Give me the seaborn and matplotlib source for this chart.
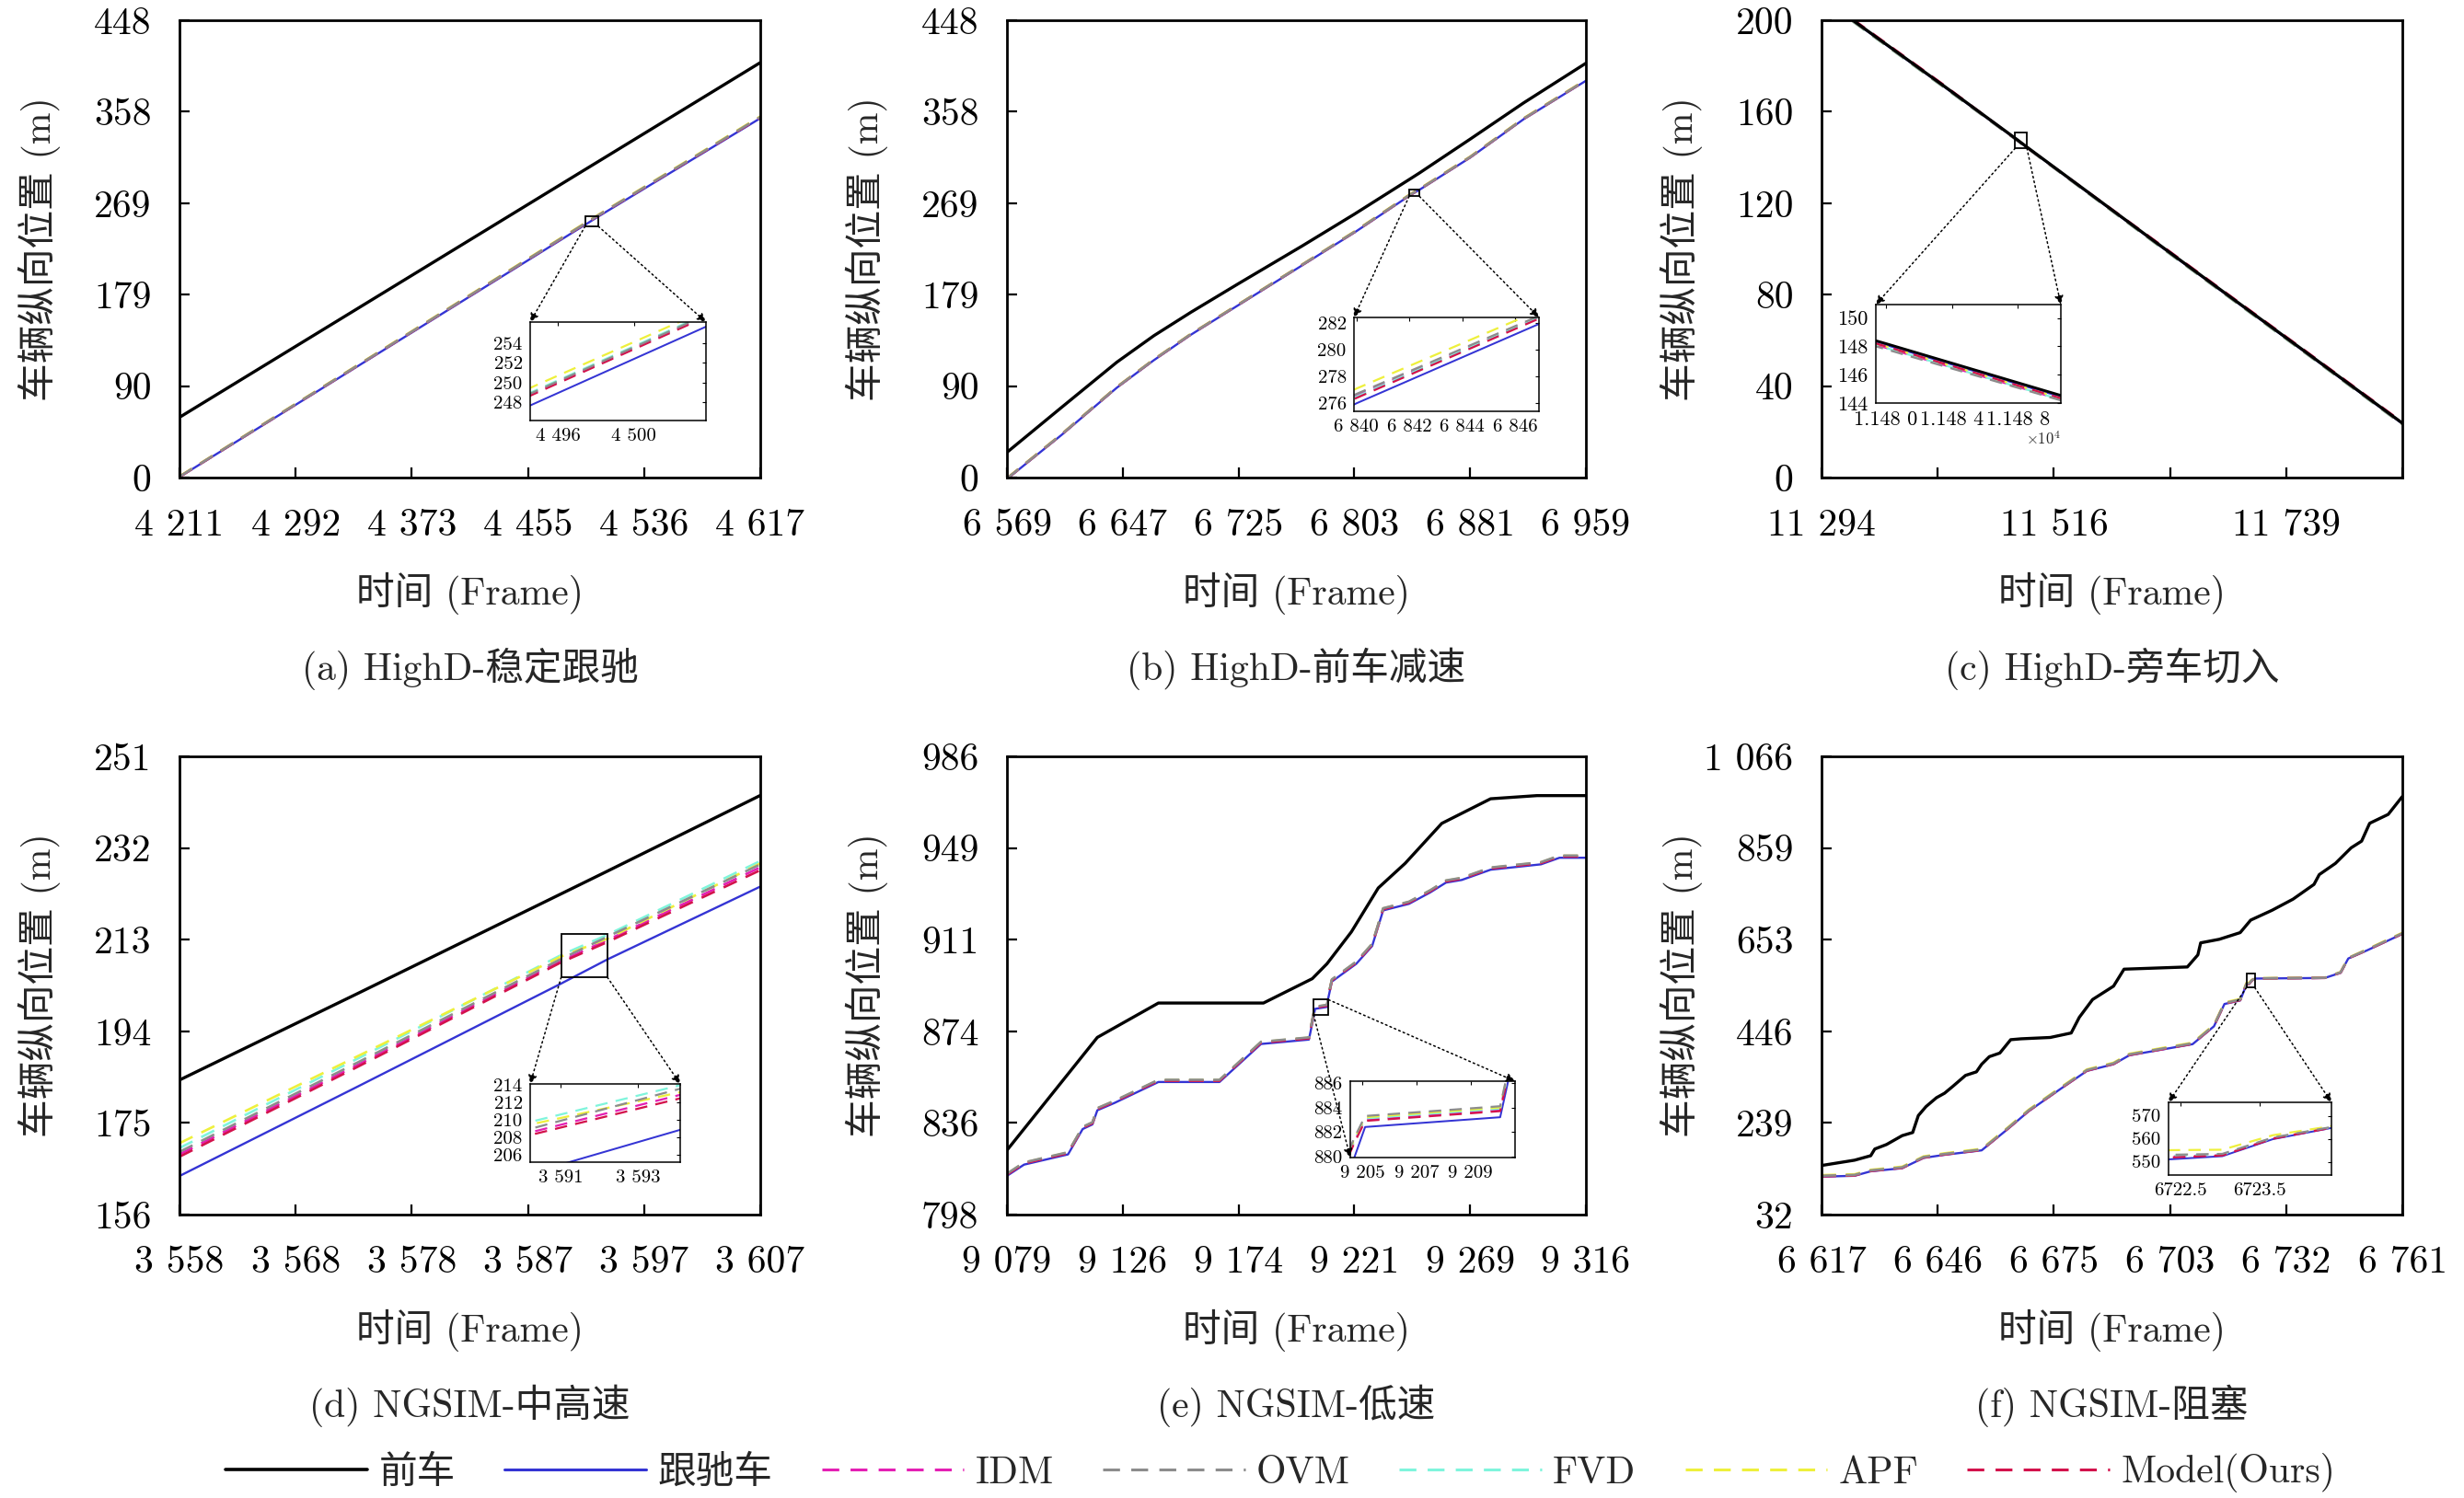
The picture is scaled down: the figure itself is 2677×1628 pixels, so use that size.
import matplotlib
matplotlib.use("Agg")
import numpy as np
import matplotlib.pyplot as plt
import seaborn as sns
from matplotlib.patches import Rectangle, ConnectionPatch
from matplotlib.lines import Line2D

# ---------------- data ----------------
LEGEND_LABELS = ['前车', '跟驰车', 'IDM', 'OVM', 'FVD', 'APF', 'Model(Ours)']
CAPTIONS = ['(a) HighD-稳定跟驰', '(b) HighD-前车减速', '(c) HighD-旁车切入',
            '(d) NGSIM-中高速', '(e) NGSIM-低速', '(f) NGSIM-阻塞']
XLABEL = '时间 (Frame)'
YLABEL = '车辆纵向位置 (m)'

# (a) HighD steady following
A_XTL = ['4 211', '4 292', '4 373', '4 455', '4 536', '4 617']
A_YTL = ['0', '90', '179', '269', '358', '448']
A_FRAMES = [4211, 4494.5, 4504, 4617]
A_LEAD = [59.0, 301.7, 309.8, 406.5]
A_FOLLOW = [0.5, 247.6, 255.9, 352.0]
A_IDM = [0.8, 248.7, 257.0, 353.0]
A_OVM = [0.9, 248.8, 257.1, 353.2]
A_FVD = [0.9, 248.9, 257.2, 353.3]
A_APF = [1.2, 249.4, 257.6, 353.8]
A_OURS = [0.7, 248.6, 256.9, 352.8]
A_IN_XT = [4496, 4500]
A_IN_XTL = ['4 496', '4 500']
A_IN_YT = [248, 250, 252, 254]

# (b) HighD leader decelerating
B_XTL = ['6 569', '6 647', '6 725', '6 803', '6 881', '6 959']
B_YTL = ['0', '90', '179', '269', '358', '448']
B_FRAMES = [6569, 6606, 6643, 6668, 6693, 6725, 6768, 6803, 6840, 6847, 6881, 6917, 6959]
B_LEAD = [24.7, 69.0, 113.0, 139.0, 162.0, 190.0, 227.0, 258.0, 292.0, 298.5, 331.5, 367.0, 405.9]
B_FOLLOW = [-1.5, 42.0, 88.0, 115.0, 140.0, 169.0, 208.0, 240.0, 276.0, 282.0, 313.4, 351.0, 388.7]
B_IDM = [-1.0, 42.5, 88.5, 115.5, 140.5, 169.5, 208.5, 240.5, 276.6, 282.5, 313.9, 351.5, 389.2]
B_OVM = [-0.9, 42.6, 88.6, 115.6, 140.6, 169.6, 208.6, 240.6, 276.7, 282.6, 314.0, 351.6, 389.3]
B_FVD = [-1.0, 42.5, 88.5, 115.5, 140.5, 169.5, 208.5, 240.5, 276.5, 282.5, 313.9, 351.5, 389.2]
B_APF = [-0.6, 42.9, 88.9, 115.9, 140.9, 169.9, 208.9, 241.0, 277.1, 283.0, 314.4, 352.0, 389.7]
B_OURS = [-1.1, 42.4, 88.4, 115.4, 140.4, 169.4, 208.4, 240.4, 276.4, 282.4, 313.8, 351.4, 389.1]
B_IN_XT = [6840, 6842, 6844, 6846]
B_IN_XTL = ['6 840', '6 842', '6 844', '6 846']
B_IN_YT = [276, 278, 280, 282]

# (c) HighD cut-in
C_XTL = ['11 294', '', '11 516', '', '11 739', '']
C_YTL = ['0', '40', '80', '120', '160', '200']
C_FRAMES = [11324, 11411, 11480, 11491, 11614, 11685, 11756, 11850]
C_LEAD = [200.0, 171.3, 148.2, 144.4, 102.9, 79.1, 55.4, 23.8]
C_FOLLOW = [199.8, 171.1, 148.1, 144.3, 102.7, 78.9, 55.2, 23.6]
C_IDM = [199.6, 170.9, 147.9, 144.1, 102.5, 78.7, 55.0, 23.4]
C_OVM = [199.5, 170.8, 147.8, 144.05, 102.4, 78.6, 54.9, 23.3]
C_FVD = [199.4, 170.7, 147.9, 144.1, 102.3, 78.5, 54.8, 23.2]
C_APF = [199.6, 170.9, 148.0, 144.2, 102.5, 78.7, 55.0, 23.4]
C_OURS = [200.4, 171.7, 148.0, 144.2, 103.3, 79.5, 55.8, 24.2]
C_IN_XT = [11480, 11484, 11488]
C_IN_XTL = ['1.148 0', '1.148 4', '1.148 8']
C_IN_YT = [144, 146, 148, 150]

# (d) NGSIM medium-high speed
D_XTL = ['3 558', '3 568', '3 578', '3 587', '3 597', '3 607']
D_YTL = ['156', '175', '194', '213', '232', '251']
D_FRAMES = [3558, 3573, 3590.2, 3594.1, 3607]
D_LEAD = [183.9, 201.8, 222.5, 227.2, 242.9]
D_FOLLOW = [164.0, 182.5, 203.9, 208.9, 224.0]
D_IDM = [168.5, 187.0, 208.6, 212.9, 228.0]
D_OVM = [169.0, 187.5, 209.0, 213.6, 228.6]
D_FVD = [169.8, 188.3, 209.8, 214.0, 229.3]
D_APF = [170.8, 188.8, 209.5, 213.2, 228.8]
D_OURS = [168.0, 186.6, 208.3, 212.5, 227.4]
D_IN_XT = [3591, 3593]
D_IN_XTL = ['3 591', '3 593']
D_IN_YT = [206, 208, 210, 212, 214]

# (e) NGSIM low speed
E_XTL = ['9 079', '9 126', '9 174', '9 221', '9 269', '9 316']
E_YTL = ['798', '836', '874', '911', '949', '986']
E_LEAD_FRAMES = [9079, 9116, 9141, 9184, 9204, 9210, 9220, 9231, 9242, 9257, 9277, 9296, 9316]
E_LEAD = [824.4, 870.7, 884.8, 884.8, 894.8, 900.9, 914.0, 932.0, 942.1, 958.5, 968.6, 969.9, 969.9]
E_FRAMES = [9079, 9086, 9104, 9110, 9114, 9116, 9123, 9141, 9166, 9183, 9202.6, 9204.7, 9205.1,
            9210.1, 9210.4, 9212, 9222, 9228.5, 9233, 9243.6, 9252.3, 9258.7, 9265.2, 9277,
            9297.6, 9305.2, 9316]
E_FOLLOW = [813.9, 818.5, 822.7, 833.1, 835.0, 840.8, 843.8, 852.4, 852.4, 868.0, 869.8, 879.9, 882.4,
            883.2, 886.2, 893.6, 900.9, 908.2, 922.8, 925.5, 930.2, 934.2, 935.3, 939.5,
            941.7, 944.4, 944.4]
E_IDM = [814.5, 819.1, 823.3, 833.7, 835.6, 841.4, 844.4, 853.0, 853.0, 868.6, 870.4, 881.2, 883.0,
         883.8, 886.8, 894.2, 901.5, 908.8, 923.4, 926.1, 930.8, 934.8, 935.9, 940.1,
         942.3, 945.0, 945.0]
E_OVM = [814.8, 819.4, 823.6, 834.0, 835.9, 841.7, 844.7, 853.3, 853.3, 868.9, 870.7, 881.5, 883.3,
         884.1, 887.1, 894.5, 901.8, 909.1, 923.7, 926.4, 931.1, 935.1, 936.2, 940.4,
         942.6, 945.3, 945.3]
E_FVD = [814.6, 819.2, 823.4, 833.8, 835.7, 841.5, 844.5, 853.1, 853.1, 868.7, 870.5, 881.3, 883.1,
         883.9, 886.9, 894.3, 901.6, 908.9, 923.5, 926.2, 930.9, 934.9, 936.0, 940.2,
         942.4, 945.1, 945.1]
E_APF = [814.7, 819.3, 823.5, 833.9, 835.8, 841.6, 844.6, 853.2, 853.2, 868.8, 870.6, 881.4, 883.2,
         884.0, 887.0, 894.4, 901.7, 909.0, 923.6, 926.3, 931.0, 935.0, 936.1, 940.3,
         942.5, 945.2, 945.2]
E_OURS = [814.4, 819.0, 823.2, 833.6, 835.5, 841.3, 844.3, 852.9, 852.9, 868.5, 870.3, 881.1, 882.9,
          883.7, 886.7, 894.1, 901.4, 908.7, 923.3, 926.0, 930.7, 934.7, 935.8, 940.0,
          942.2, 944.9, 944.9]
E_IN_XT = [9205, 9207, 9209]
E_IN_XTL = ['9 205', '9 207', '9 209']
E_IN_YT = [880, 882, 884, 886]

# (f) NGSIM congestion
F_XTL = ['6 617', '6 646', '6 675', '6 703', '6 732', '6 761']
F_YTL = ['32', '239', '446', '653', '859', '1 066']
F_LEAD_FRAMES = [6617, 6625.2, 6629.2, 6630.2, 6633.1, 6637, 6639.6, 6641, 6642.9, 6645.5, 6647.5,
                 6649.5, 6652.7, 6655.4, 6656.7, 6658.6, 6661.2, 6663.9, 6666.5, 6673.7, 6678.9,
                 6680.9, 6684.2, 6686.8, 6689.4, 6692, 6707.7, 6710.3, 6711, 6715.6, 6720.8,
                 6723.4, 6728.7, 6733.9, 6739.1, 6740.4, 6744.4, 6748.3, 6750.9, 6752.9, 6757.5, 6761]
F_LEAD = [142.8, 154.8, 164.9, 180.0, 190.1, 210.2, 217.2, 255.5, 275.7, 295.8, 305.9,
          321.0, 346.1, 354.1, 371.3, 388.4, 396.5, 426.7, 428.7, 431.7, 441.8,
          477.0, 517.3, 532.4, 547.5, 585.8, 590.8, 618.0, 645.2, 653.2, 668.3,
          696.5, 718.7, 743.8, 777.1, 799.2, 824.4, 859.6, 874.7, 915.0, 935.1, 975.4]
F_FRAMES = [6617, 6625.2, 6629.2, 6637, 6642.3, 6647.5, 6656.7, 6663.2, 6668.4, 6676.3, 6682.8,
            6689.4, 6693.3, 6709, 6714.3, 6716.9, 6720.8, 6722.35, 6723.03, 6723.67, 6724.4,
            6741.8, 6745.7, 6747.6, 6752.2, 6761]
F_FOLLOW = [117.6, 119.6, 129.7, 136.7, 159.9, 166.9, 177.0, 225.3, 265.6, 315.9, 356.2,
            371.3, 391.4, 416.6, 456.9, 507.2, 515.2, 551.0, 552.4, 559.8, 564.6,
            566.0, 577.7, 609.9, 628.0, 665.3]
F_IDM = [118.8, 120.8, 130.9, 137.9, 161.1, 168.1, 178.2, 226.5, 266.8, 317.1, 357.4,
         372.5, 392.6, 417.8, 458.1, 508.4, 516.4, 552.2, 552.9, 560.2, 564.8,
         566.2, 578.3, 610.5, 628.9, 666.2]
F_OVM = [119.6, 121.6, 131.7, 138.7, 161.9, 168.9, 179.0, 227.3, 267.6, 317.9, 358.2,
         373.3, 393.4, 418.6, 458.9, 509.2, 517.2, 553.0, 553.4, 560.5, 565.0,
         566.4, 578.7, 610.9, 629.5, 666.8]
F_FVD = [119.2, 121.2, 131.3, 138.3, 161.5, 168.5, 178.6, 226.9, 267.2, 317.5, 357.8,
         372.9, 393.0, 418.2, 458.5, 508.8, 516.8, 552.6, 553.1, 560.3, 564.9,
         566.3, 578.5, 610.7, 629.2, 666.5]
F_APF = [121.0, 123.0, 133.1, 140.1, 163.3, 170.3, 180.4, 228.7, 269.0, 319.3, 359.6,
         374.7, 394.8, 420.0, 460.3, 510.6, 518.6, 555.0, 555.2, 561.5, 565.4,
         566.8, 579.5, 611.5, 630.5, 667.8]
F_OURS = [118.4, 120.4, 130.5, 137.5, 160.7, 167.7, 177.8, 226.1, 266.4, 316.7, 357.0,
          372.1, 392.2, 417.4, 457.7, 508.0, 516.0, 551.8, 552.7, 560.0, 564.7,
          566.1, 578.1, 610.3, 628.6, 665.9]
F_IN_XT = [6722.5, 6723.5]
F_IN_XTL = ['6722.5', '6723.5']
F_IN_YT = [550, 560, 570]

# ---------------- style ----------------
sns.set_theme(style='white')
FAM = ['cmr10', 'Noto Sans CJK SC', 'DejaVu Serif']
plt.rcParams['font.family'] = FAM
plt.rcParams['mathtext.fontset'] = 'cm'
plt.rcParams['axes.unicode_minus'] = False
plt.rcParams['axes.formatter.use_mathtext'] = True

LEAD_C = '#000000'
FOLLOW_C = '#3434d4'
# legend order: IDM, OVM, FVD, APF, Ours
MODEL_C = ['#e41fb4', '#8c8c8c', '#7ff5dc', '#eef03c', '#d3124c']
DRAW_ORDER = [0, 2, 3, 4, 1]   # OVM drawn on top of the other models
DASH = (6, 4)

W, H = 2677, 1628
fig = plt.figure(figsize=(W / 100, H / 100), dpi=100)
fig.patch.set_facecolor('white')


def px_axes(x0, y0, x1, y1):
    return fig.add_axes([x0 / W, 1 - y1 / H, (x1 - x0) / W, (y1 - y0) / H])


panels = [
    dict(rect=(195, 22, 826, 519), xlim=(4211, 4617), ylim=(0, 448), xtl=A_XTL, ytl=A_YTL,
         lead=(A_FRAMES, A_LEAD), follow=(A_FRAMES, A_FOLLOW),
         models=[(A_FRAMES, s) for s in (A_IDM, A_OVM, A_FVD, A_APF, A_OURS)],
         irect=(576, 350, 767, 457), ixlim=(4494.55, 4503.8), iylim=(246.1, 256.2),
         ixt=A_IN_XT, ixtl=A_IN_XTL, iyt=A_IN_YT, links=[((0, 0), (0, 1)), ((1, 0), (1, 1))], ifs=15),
    dict(rect=(1094, 22, 1723, 519), xlim=(6569, 6959), ylim=(0, 448), xtl=B_XTL, ytl=B_YTL,
         lead=(B_FRAMES, B_LEAD), follow=(B_FRAMES, B_FOLLOW),
         models=[(B_FRAMES, s) for s in (B_IDM, B_OVM, B_FVD, B_APF, B_OURS)],
         irect=(1471, 345, 1672, 447), ixlim=(6839.9, 6846.9), iylim=(275.4, 282.4),
         ixt=B_IN_XT, ixtl=B_IN_XTL, iyt=B_IN_YT, links=[((0, 0), (0, 1)), ((1, 0), (1, 1))], ifs=15),
    dict(rect=(1979, 22, 2610, 519), xlim=(11294, 11850), ylim=(0, 200), xtl=C_XTL, ytl=C_YTL,
         lead=(C_FRAMES, C_LEAD), follow=(C_FRAMES, C_FOLLOW),
         models=[(C_FRAMES, s) for s in (C_IDM, C_OVM, C_FVD, C_APF, C_OURS)],
         irect=(2038, 331, 2239, 438), ixlim=(11479.4, 11490.6), iylim=(144.0, 150.95),
         ixt=C_IN_XT, ixtl=C_IN_XTL, iyt=C_IN_YT, links=[((0, 0), (0, 1)), ((1, 0), (1, 1))], ifs=16),
    dict(rect=(195, 822, 826, 1320), xlim=(3558, 3607), ylim=(156, 251), xtl=D_XTL, ytl=D_YTL,
         lead=(D_FRAMES, D_LEAD), follow=(D_FRAMES, D_FOLLOW),
         models=[(D_FRAMES, s) for s in (D_IDM, D_OVM, D_FVD, D_APF, D_OURS)],
         irect=(576, 1178, 739, 1263), ixlim=(3590.2, 3594.1), iylim=(205.2, 214.15),
         ixt=D_IN_XT, ixtl=D_IN_XTL, iyt=D_IN_YT, links=[((0, 0), (0, 1)), ((1, 0), (1, 1))], ifs=15),
    dict(rect=(1094, 822, 1723, 1320), xlim=(9079, 9316), ylim=(798, 986), xtl=E_XTL, ytl=E_YTL,
         lead=(E_LEAD_FRAMES, E_LEAD), follow=(E_FRAMES, E_FOLLOW),
         models=[(E_FRAMES, s) for s in (E_IDM, E_OVM, E_FVD, E_APF, E_OURS)],
         irect=(1467, 1175, 1646, 1258), ixlim=(9204.55, 9210.65), iylim=(879.9, 886.15),
         ixt=E_IN_XT, ixtl=E_IN_XTL, iyt=E_IN_YT, links=[((0, 0), (0, 0)), ((1, 1), (1, 1))], ifs=15),
    dict(rect=(1979, 822, 2610, 1320), xlim=(6617, 6761), ylim=(32, 1066), xtl=F_XTL, ytl=F_YTL,
         lead=(F_LEAD_FRAMES, F_LEAD), follow=(F_FRAMES, F_FOLLOW),
         models=[(F_FRAMES, s) for s in (F_IDM, F_OVM, F_FVD, F_APF, F_OURS)],
         irect=(2356, 1198, 2533, 1277), ixlim=(6722.35, 6724.41), iylim=(544.2, 575.8),
         ixt=F_IN_XT, ixtl=F_IN_XTL, iyt=F_IN_YT, links=[((0, 0), (0, 1)), ((1, 0), (1, 1))], ifs=15),
]


def draw_series(ax, p, scale=1.0):
    fx, fy = p['follow']
    sns.lineplot(x=fx, y=fy, ax=ax, color=FOLLOW_C, linewidth=1.7 * scale,
                 estimator=None, sort=False, legend=False)
    for k in DRAW_ORDER:
        mx, my = p['models'][k]
        sns.lineplot(x=mx, y=my, ax=ax, color=MODEL_C[k], linewidth=1.9 * scale,
                     estimator=None, sort=False, legend=False)
        ax.lines[-1].set_dashes(DASH)
    lx, ly = p['lead']
    sns.lineplot(x=lx, y=ly, ax=ax, color=LEAD_C, linewidth=2.4 * scale,
                 estimator=None, sort=False, legend=False)
    ax.set_xlabel('')
    ax.set_ylabel('')


for i, p in enumerate(panels):
    x0, y0, x1, y1 = p['rect']
    ax = px_axes(x0, y0, x1, y1)
    ax.set_facecolor('white')
    draw_series(ax, p)
    ax.set_xlim(*p['xlim'])
    ax.set_ylim(*p['ylim'])
    ax.set_xticks(np.linspace(p['xlim'][0], p['xlim'][1], 6))
    ax.set_xticklabels(p['xtl'])
    ax.set_yticks(np.linspace(p['ylim'][0], p['ylim'][1], 6))
    ax.set_yticklabels(p['ytl'])
    ax.tick_params(axis='both', direction='in', length=8, width=1.6, labelsize=30,
                   colors='black', bottom=True, left=True, top=False, right=False)
    ax.tick_params(axis='x', pad=24)
    ax.tick_params(axis='y', pad=22)
    for s in ax.spines.values():
        s.set_linewidth(2.0)
        s.set_color('black')
    ax.grid(False)

    # axis labels and caption
    cx = (x0 + x1) / 2 / W
    fig.text(cx, 1 - (y1 + 126) / H, XLABEL, ha='center', va='center', fontsize=30)
    fig.text(cx, 1 - (y1 + 208) / H, CAPTIONS[i], ha='center', va='center', fontsize=30)
    fig.text((x0 - 152) / W, 1 - (y0 + y1) / 2 / H, YLABEL, rotation=90,
             ha='center', va='center', fontsize=30)

    # zoom box on the main axes
    ix0, ix1 = p['ixlim']
    iy0, iy1 = p['iylim']
    ax.add_patch(Rectangle((ix0, iy0), ix1 - ix0, iy1 - iy0, fill=False,
                           ec='black', lw=1.3, zorder=6))

    # inset
    a0, b0, a1, b1 = p['irect']
    ins = px_axes(a0, b0, a1, b1)
    ins.set_facecolor('white')
    draw_series(ins, p, scale=0.85)
    ins.set_xlim(ix0, ix1)
    ins.set_ylim(iy0, iy1)
    ins.set_xticks(p['ixt'])
    ins.set_xticklabels(p['ixtl'])
    ins.set_yticks(p['iyt'])
    ins.set_yticklabels([str(v) for v in p['iyt']])
    ins.tick_params(axis='both', direction='in', length=3, width=0.8, labelsize=p['ifs'],
                    colors='black', pad=6, top=True, right=True)
    for s in ins.spines.values():
        s.set_linewidth(1.1)
        s.set_color('black')
    ins.grid(False)
    if i == 2:
        ins.text(1.0, -0.36, r'$\times10^4$', transform=ins.transAxes, ha='right',
                 va='center', fontsize=12)

    for (bf, ifr) in p['links']:
        xa = ix0 + bf[0] * (ix1 - ix0)
        ya = iy0 + bf[1] * (iy1 - iy0)
        con = ConnectionPatch(xyA=(xa, ya), coordsA=ax.transData, xyB=ifr,
                              coordsB=ins.transAxes, arrowstyle='-|>', mutation_scale=14,
                              lw=1.1, linestyle=(0, (1.2, 2.2)), color='black',
                              shrinkA=0, shrinkB=0, zorder=8)
        fig.add_artist(con)

# legend
handles = [Line2D([], [], color=LEAD_C, lw=2.6),
           Line2D([], [], color=FOLLOW_C, lw=2.2)]
for c in MODEL_C:
    handles.append(Line2D([], [], color=c, lw=2.2, dashes=DASH))
fig.legend(handles, LEGEND_LABELS, loc='center', bbox_to_anchor=(1391 / W, 1 - 1601 / H),
           ncol=7, frameon=False, fontsize=30, handlelength=3.7, handletextpad=0.3,
           columnspacing=1.28)

fig.savefig('out.png', dpi=100, facecolor='white')
